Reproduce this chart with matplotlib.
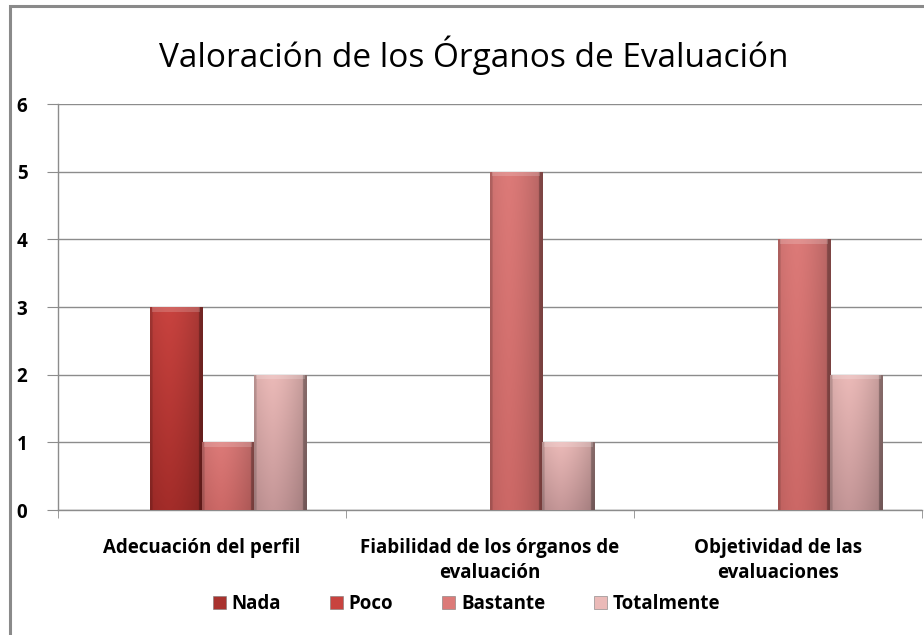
import numpy as np
import matplotlib.pyplot as plt
from matplotlib.patches import Patch, Rectangle

# ── Data ──────────────────────────────────────────────────────────────────────
categories = [
    "Adecuación del perfil",
    "Fiabilidad de los órganos de\nevaluación",
    "Objetividad de las\nevaluaciones",
]
series_names = ["Nada", "Poco", "Bastante", "Totalmente"]
nada = [0, 0, 0]
poco = [3, 0, 0]
bastante = [1, 5, 4]
totalmente = [2, 1, 2]
values = [nada, poco, bastante, totalmente]

title = "Valoración de los Órganos de Evaluación"

# top colour / bottom colour for the Excel-like gradient
top_colors = ["#a8322e", "#c8433f", "#dc7a78", "#ebbab8"]
bottom_colors = ["#7e201e", "#a32c29", "#cc6866", "#c49697"]

plt.rcParams["font.family"] = ["Open Sans", "DejaVu Sans"]


def hex_rgb(h):
    h = h.lstrip("#")
    return np.array([int(h[i:i + 2], 16) for i in (0, 2, 4)]) / 255.0


def gradient_image(top, bottom, nx=40, ny=200):
    """Vertical top->bottom blend, darkened towards the bar edges."""
    t = np.linspace(0, 1, ny)[:, None]
    col = (1 - t)[..., None] * hex_rgb(top) + t[..., None] * hex_rgb(bottom)
    x = np.linspace(0, 1, nx)
    shade = 1.0 - 0.18 * np.abs(x - 0.35) ** 1.5 / 0.65 ** 1.5
    shade[:2] *= 0.85
    shade[-3:] *= 0.7
    img = np.broadcast_to(col, (ny, nx, 3)) * shade[None, :, None]
    return np.clip(img, 0, 1)


# ── Figure ────────────────────────────────────────────────────────────────────
fig = plt.figure(figsize=(9.24, 6.35), dpi=100)
ax = fig.add_axes([58 / 924, 1 - 510 / 635, 864 / 924, 406 / 635])

# outer chart border (cropped on the right and bottom in the reference)
fig.patches.append(Rectangle((10 / 924, -0.1), 1.2, 1 - 6 / 635 + 0.1,
                             transform=fig.transFigure, fill=False,
                             edgecolor="#8a8a8a", linewidth=2.2, zorder=0))

n_series = len(series_names)
x = np.arange(len(categories))
width = 1 / (n_series + 1.5)
for i, (name, vals) in enumerate(zip(series_names, values)):
    offset = (i - (n_series - 1) / 2) * width
    bars = ax.bar(x + offset, vals, width, color=bottom_colors[i], linewidth=0, zorder=2)
    for bar in bars:
        h = bar.get_height()
        if h <= 0:
            continue
        x0 = bar.get_x()
        img = gradient_image(top_colors[i], bottom_colors[i])
        im = ax.imshow(img, extent=(x0, x0 + bar.get_width(), 0, h), origin="upper",
                       aspect="auto", zorder=3, interpolation="bilinear")
        im.set_clip_path(bar)
        # small bevel highlight on the top
        ax.add_patch(Rectangle((x0 + width * 0.04, h - 0.07), width * 0.92, 0.07,
                               facecolor="white", alpha=0.18, linewidth=0, zorder=4))

ax.set_xlim(-0.5, len(categories) - 0.5)
ax.set_ylim(0, 6)
ax.set_yticks(range(0, 7))
ax.yaxis.grid(True, color="#8c8c8c", linewidth=1.0)
ax.set_axisbelow(True)

ax.set_xticks(x)
ax.set_xticklabels(categories, fontsize=13.5, fontweight="bold", linespacing=1.35)
ax.set_xticks(np.arange(len(categories) + 1) - 0.5, minor=True)
ax.tick_params(axis="x", which="major", length=0, pad=20)
ax.tick_params(axis="x", which="minor", length=6, color="#8c8c8c")
ax.tick_params(axis="y", length=8, color="#8c8c8c", labelsize=13.5, pad=14)
for lab in ax.get_yticklabels():
    lab.set_fontweight("bold")

for side in ["top", "right"]:
    ax.spines[side].set_visible(False)
for side in ["left", "bottom"]:
    ax.spines[side].set_color("#8c8c8c")
    ax.spines[side].set_linewidth(1.0)

fig.text(0.513, 1 - 55 / 635, title, ha="center", va="center", fontsize=24,
         fontweight="medium")

handles = [Patch(facecolor=c, edgecolor="#7a7a7a", linewidth=0.4) for c in top_colors]
fig.legend(handles, series_names, loc="center", bbox_to_anchor=(0.505, 1 - 604 / 635),
           ncol=4, frameon=False, handlelength=0.7, handleheight=0.7,
           handletextpad=0.3, columnspacing=2.6, prop={"weight": "bold", "size": 13.5})

fig.savefig("out.png", dpi=100)
